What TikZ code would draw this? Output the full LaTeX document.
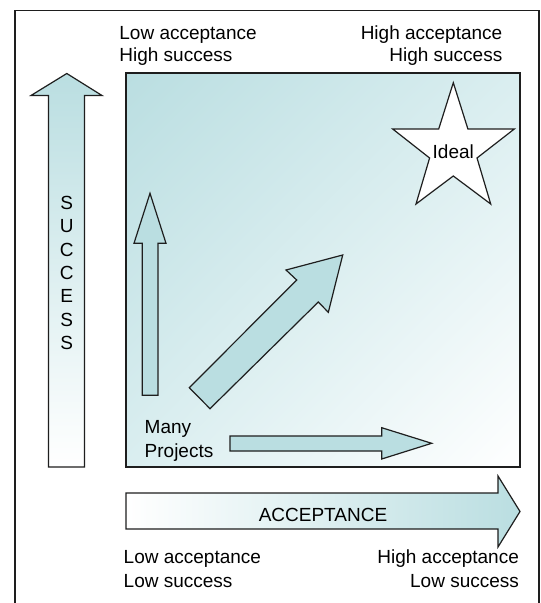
\documentclass[tikz,border=0pt]{standalone}
\usepackage{fontspec}
\setmainfont{Liberation Sans}
\usetikzlibrary{shadings}
\definecolor{qteal}{RGB}{186,222,225}
\definecolor{qmid}{RGB}{218,238,240}
\definecolor{qline}{RGB}{30,30,30}
\begin{document}
\begin{tikzpicture}[x=0.5pt,y=-0.5pt,
  lbl/.style={font=\fontsize{9.5}{11.4}\selectfont, inner sep=0pt, text=black},
  outl/.style={draw=qline, line width=0.6pt, line join=miter},
  inarrow/.style={outl, fill=qteal},
  framebox/.style={draw=qline, line width=0.75pt}]
\clip (0,0) rectangle (540,603);
\fill[white] (0,0) rectangle (540,603);
\draw[framebox] (15,10.5) rectangle (538.8,650);
% main square
\shadedraw[outl, upper left=qteal, upper right=qmid, lower left=qmid, lower right=white] (126,73) rectangle (520,467);
% success arrow
\shadedraw[outl, top color=qteal, bottom color=white] (48.5,467) -- (48.5,95.5) -- (31,95.5) -- (66.8,73.5) -- (102,95.5) -- (84.5,95.5) -- (84.5,467) -- cycle;
\node[lbl, align=center, font=\fontsize{9.5}{11.67}\selectfont] (succ) at (66.7,273) {S\\U\\C\\C\\E\\S\\S};
% acceptance arrow
\shadedraw[outl, left color=white, right color=qteal] (126,493) -- (498,493) -- (498,476) -- (520,511.5) -- (498,547) -- (498,529) -- (126,529) -- cycle;
\node[lbl, anchor=base] (acc) at (323,521) {ACCEPTANCE};
% inner arrows
\draw[inarrow] (142.3,395.3) -- (142.3,243.3) -- (134,243.3) -- (150,193.3) -- (166,243.3) -- (158,243.3) -- (158,395.3) -- cycle;
\draw[inarrow] (230,436) -- (381.7,436) -- (381.7,427.7) -- (431.7,443.3) -- (381.7,459) -- (381.7,451) -- (230,451) -- cycle;
\draw[inarrow] (189.3,387.7) -- (296.7,280) -- (286,270) -- (342.7,255) -- (328.3,312.3) -- (318.3,302) -- (210,408.7) -- cycle;
% star
\draw[outl, fill=white] (453.3,82.7) -- (467.9,129) -- (514.3,129) -- (477,158) -- (490.7,204) -- (453.3,176) -- (416,204) -- (429.6,158) -- (392.7,129) -- (438.7,129) -- cycle;
\node[lbl, anchor=base] (ideal) at (453.3,158.3) {Ideal};
% labels
\node[lbl, anchor=base west] (many1) at (144.3,433.5) {Many};
\node[lbl, anchor=base west] (many2) at (144.3,457.5) {Projects};
\node[lbl, anchor=base west] (tl1) at (119,39.3) {Low acceptance};
\node[lbl, anchor=base west] (tl2) at (119,62) {High success};
\node[lbl, anchor=base east] (tr1) at (502.7,39.3) {High acceptance};
\node[lbl, anchor=base east] (tr2) at (502.7,62) {High success};
\node[lbl, anchor=base west] (bl1) at (123.3,563.6) {Low acceptance};
\node[lbl, anchor=base west] (bl2) at (123.3,587) {Low success};
\node[lbl, anchor=base east] (br1) at (519.3,563.6) {High acceptance};
\node[lbl, anchor=base east] (br2) at (519.3,587) {Low success};
\end{tikzpicture}
\end{document}
